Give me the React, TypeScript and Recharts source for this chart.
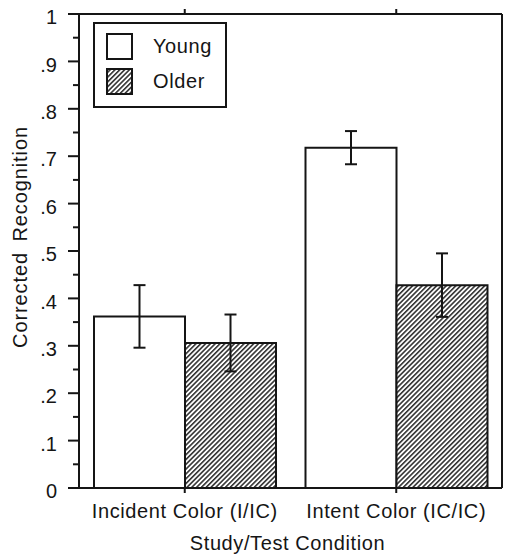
import React from 'react';
import { BarChart, Bar, XAxis, YAxis, ErrorBar, Legend, Label } from 'recharts';

const conditions = ['Incident Color (I/IC)', 'Intent Color (IC/IC)'];
const seriesNames = ['Young', 'Older'];
const young = [0.362, 0.718];
const older = [0.306, 0.428];
const youngErr = [0.066, 0.035];
const olderErr = [0.06, 0.067];

const yTicks = [0, 0.05, 0.1, 0.15, 0.2, 0.25, 0.3, 0.35, 0.4, 0.45, 0.5, 0.55, 0.6, 0.65, 0.7, 0.75, 0.8, 0.85, 0.9, 0.95, 1];
const yTickLabels = ['0', '.1', '.2', '.3', '.4', '.5', '.6', '.7', '.8', '.9', '1'];

const data = conditions.map((condition, i) => ({
  condition,
  young: young[i],
  older: older[i],
  youngErr: youngErr[i],
  olderErr: olderErr[i],
}));

const FONT = '"Liberation Sans", Arial, Helvetica, sans-serif';
const INK = '#151515';
const FS = 20;

const LeftTick = (props: any) => {
  const { x, y, index } = props;
  const major = index % 2 === 0;
  const len = major ? 11 : 6;
  return (
    <g>
      <line x1={x - len} y1={y} x2={x} y2={y} stroke={INK} strokeWidth={2} />
      {major && (
        <text x={x - 22} y={y + 3} dy="0.355em" textAnchor="end" fontSize={FS} fill={INK} fontFamily={FONT}>
          {yTickLabels[index / 2]}
        </text>
      )}
    </g>
  );
};

const Hatch = ({ id }: { id: string }) => (
  <pattern id={id} patternUnits="userSpaceOnUse" width={3.4} height={10} patternTransform="rotate(45)">
    <rect width={3.4} height={10} fill="#fff" />
    <line x1={0.8} y1={0} x2={0.8} y2={10} stroke={INK} strokeWidth={1.4} />
  </pattern>
);

// legend keeps the series order (Young first), not alphabetical
const LegendBox = () => (
  <div
    style={{
      border: `2px solid ${INK}`,
      boxSizing: 'border-box',
      width: 134,
      height: 86,
      padding: '9px 0 0 11px',
      fontFamily: FONT,
      fontSize: FS,
      color: INK,
      background: '#fff',
    }}
  >
    {seriesNames.map((name, i) => (
      <div key={name} style={{ display: 'flex', alignItems: 'center', height: 26, marginBottom: i === 0 ? 9 : 0 }}>
        <svg width={27} height={27} style={{ display: 'block' }}>
          <defs>
            <Hatch id={`legend-hatch-${i}`} />
          </defs>
          <rect
            x={1}
            y={1}
            width={25}
            height={25}
            fill={i === 0 ? '#fff' : `url(#legend-hatch-${i})`}
            stroke={INK}
            strokeWidth={2}
          />
        </svg>
        <span style={{ marginLeft: 20, letterSpacing: 0.6 }}>{name}</span>
      </div>
    ))}
  </div>
);

const YLabel = (props: any) => {
  const { viewBox } = props;
  const cx = 20;
  const cy = viewBox.y + viewBox.height / 2 - 14;
  return (
    <text
      x={cx}
      y={cy}
      transform={`rotate(-90 ${cx} ${cy})`}
      textAnchor="middle"
      dy="0.355em"
      fontSize={FS}
      letterSpacing={0.9}
      wordSpacing={4}
      fill={INK}
      fontFamily={FONT}
    >
      Corrected Recognition
    </text>
  );
};

export default function App() {
  return (
    <div style={{ width: 508, height: 554, background: '#fff', fontFamily: FONT }}>
      <style>{`body{margin:0;background:#fff}`}</style>
      <BarChart
        width={508}
        height={554}
        data={data}
        margin={{ top: 0, right: 0, bottom: 0, left: 0 }}
        barGap={0}
        barSize={91}
      >
        <defs>
          <Hatch id="hatch" />
        </defs>
        <XAxis
          dataKey="condition"
          height={66}
          axisLine={{ stroke: INK, strokeWidth: 2 }}
          tickLine={{ stroke: INK, strokeWidth: 2 }}
          tickSize={5}
          tickMargin={11}
          tick={{ fill: INK, fontSize: FS, fontFamily: FONT, letterSpacing: 0.6 }}
          interval={0}
        >
          <Label
            value="Study/Test Condition"
            position="insideBottom"
            offset={4}
            dx={-3}
            style={{ fill: INK, fontSize: FS, fontFamily: FONT, letterSpacing: 0.6 }}
          />
        </XAxis>
        <XAxis
          xAxisId="top"
          dataKey="condition"
          orientation="top"
          height={14}
          axisLine={{ stroke: INK, strokeWidth: 2 }}
          tickLine={{ stroke: INK, strokeWidth: 2 }}
          tickSize={5}
          tickFormatter={() => ''}
          interval={0}
        />
        <YAxis
          domain={[0, 1]}
          ticks={yTicks}
          interval={0}
          width={79}
          axisLine={{ stroke: INK, strokeWidth: 2 }}
          tickLine={false}
          tickSize={0}
          tickMargin={0}
          tick={<LeftTick />}
        >
          <Label content={<YLabel />} />
        </YAxis>
        <YAxis
          yAxisId="right"
          orientation="right"
          domain={[0, 1]}
          ticks={yTicks}
          interval={0}
          width={6}
          axisLine={{ stroke: INK, strokeWidth: 2 }}
          tickLine={{ stroke: INK, strokeWidth: 2 }}
          tickSize={6}
          tickFormatter={() => ''}
        />
        <Legend
          layout="vertical"
          align="center"
          verticalAlign="middle"
          width={134}
          height={86}
          wrapperStyle={{ left: 93, top: 22, width: 134, height: 86 }}
          content={<LegendBox />}
        />
        <Bar dataKey="young" name="Young" fill="#fff" stroke={INK} strokeWidth={2} isAnimationActive={false}>
          <ErrorBar dataKey="youngErr" width={6} stroke={INK} strokeWidth={2} isAnimationActive={false} />
        </Bar>
        <Bar dataKey="older" name="Older" fill="url(#hatch)" stroke={INK} strokeWidth={2} isAnimationActive={false}>
          <ErrorBar dataKey="olderErr" width={6} stroke={INK} strokeWidth={2} isAnimationActive={false} />
        </Bar>
      </BarChart>
    </div>
  );
}
